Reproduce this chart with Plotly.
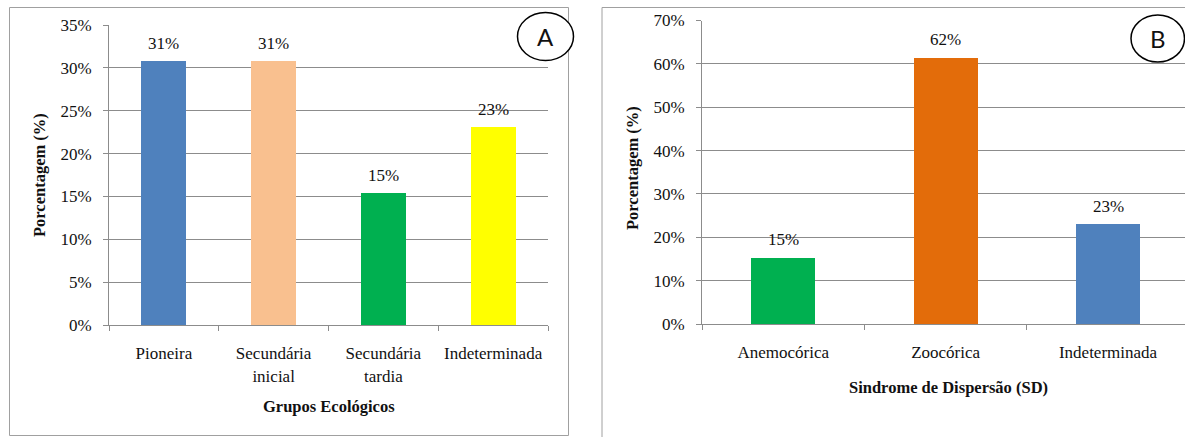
import plotly.graph_objects as go

# Panel A: ecological groups
grupos = ["Pioneira", "Secundária<br>inicial", "Secundária<br>tardia", "Indeterminada"]
pct_grupos = [0.3077, 0.3077, 0.1538, 0.2308]
cores_grupos = ["#4F81BD", "#F9C08F", "#00B050", "#FFFF00"]

# Panel B: dispersal syndrome
sindromes = ["Anemocórica", "Zoocórica", "Indeterminada"]
pct_sindromes = [0.1538, 0.6154, 0.2308]
cores_sindromes = ["#00B050", "#E36C0A", "#4F81BD"]

W, H = 1185, 437
SERIF = "Times New Roman"
GRID = "#8C8C8C"
BORDER = "#A0A0A0"


def px(x):
    return x / W


def py(y):
    return 1 - y / H


fig = go.Figure()
fig.add_trace(go.Bar(x=grupos, y=pct_grupos, marker=dict(color=cores_grupos, line=dict(width=0)),
                     width=0.41, xaxis="x", yaxis="y", showlegend=False, hoverinfo="x+y"))
fig.add_trace(go.Bar(x=sindromes, y=pct_sindromes, marker=dict(color=cores_sindromes, line=dict(width=0)),
                     width=0.395, xaxis="x2", yaxis="y2", showlegend=False, hoverinfo="x+y"))

tick_font = dict(family=SERIF, size=17, color="#111")
common_x = dict(type="category", showline=True, linecolor=GRID, linewidth=1, ticks="outside",
                tickson="boundaries", ticklen=5, tickcolor=GRID, showgrid=False, automargin=False,
                tickfont=tick_font, ticklabelstandoff=13, fixedrange=True)
common_y = dict(showline=True, linecolor=GRID, linewidth=1, ticks="outside", ticklen=5,
                tickcolor=GRID, showgrid=True, gridcolor=GRID, gridwidth=1, zeroline=False,
                automargin=False, tickformat=".0%", tickfont=tick_font, ticklabelstandoff=8,
                fixedrange=True)

fig.update_layout(
    width=W, height=H,
    margin=dict(l=0, r=0, t=0, b=0, pad=0, autoexpand=False),
    paper_bgcolor="white", plot_bgcolor="white",
    bargap=0,
    xaxis=dict(common_x, domain=[px(109), px(548)], range=[-0.5, 3.5], anchor="y"),
    yaxis=dict(common_y, domain=[py(325), py(25)], range=[0, 0.35], dtick=0.05, anchor="x"),
    xaxis2=dict(common_x, domain=[px(702), 1.0], range=[-0.5, 2.474], anchor="y2"),
    yaxis2=dict(common_y, domain=[py(324), py(20.5)], range=[0, 0.70], dtick=0.10, anchor="x2"),
)

annotations = []
# value labels above the bars
for cat, v in zip(grupos, pct_grupos):
    annotations.append(dict(x=cat, y=v, xref="x", yref="y", text=f"{v:.0%}", showarrow=False,
                            yanchor="bottom", yshift=6, font=dict(family=SERIF, size=17, color="#111")))
for cat, v in zip(sindromes, pct_sindromes):
    annotations.append(dict(x=cat, y=v, xref="x2", yref="y2", text=f"{v:.0%}", showarrow=False,
                            yanchor="bottom", yshift=6, font=dict(family=SERIF, size=17, color="#111")))

title_font = dict(family=SERIF, size=16.5, color="#111")
annotations += [
    dict(x=px(40), y=py(175), xref="paper", yref="paper", text="<b>Porcentagem (%)</b>",
         textangle=-90, showarrow=False, font=title_font, xanchor="center", yanchor="middle"),
    dict(x=px(632), y=py(168), xref="paper", yref="paper", text="<b>Porcentagem (%)</b>",
         textangle=-90, showarrow=False, font=title_font, xanchor="center", yanchor="middle"),
    dict(x=px(328.5), y=py(406), xref="paper", yref="paper", text="<b>Grupos Ecológicos</b>",
         showarrow=False, font=title_font, xanchor="center", yanchor="middle"),
    dict(x=px(948), y=py(387), xref="paper", yref="paper", text="<b>Sindrome de Dispersão (SD)</b>",
         showarrow=False, font=title_font, xanchor="center", yanchor="middle"),
    dict(x=px(545.5), y=py(36.5), xref="paper", yref="paper", text="A", showarrow=False,
         font=dict(family="Lato, Open Sans, sans-serif", size=24, color="#111"),
         xanchor="center", yanchor="middle"),
    dict(x=px(1158), y=py(38.5), xref="paper", yref="paper", text="B", showarrow=False,
         font=dict(family="Lato, Open Sans, sans-serif", size=24, color="#111"),
         xanchor="center", yanchor="middle"),
]
fig.update_layout(annotations=annotations)

shapes = [
    # panel frames
    dict(type="rect", xref="paper", yref="paper", x0=px(9.5), x1=px(568.5), y0=py(435.5), y1=py(7.5),
         line=dict(color=BORDER, width=1), fillcolor="rgba(0,0,0,0)", layer="above"),
    dict(type="line", xref="paper", yref="paper", x0=px(602), x1=px(602), y0=py(7.5), y1=0,
         line=dict(color=BORDER, width=1), layer="above"),
    dict(type="line", xref="paper", yref="paper", x0=px(602), x1=1, y0=py(7.5), y1=py(7.5),
         line=dict(color=BORDER, width=1), layer="above"),
    # panel badges
    dict(type="circle", xref="paper", yref="paper", x0=px(517.5), x1=px(573.5), y0=py(60.5), y1=py(12.5),
         line=dict(color="black", width=1.5), fillcolor="white", layer="above"),
    dict(type="circle", xref="paper", yref="paper", x0=px(1131), x1=px(1184.5), y0=py(62), y1=py(15),
         line=dict(color="black", width=1.5), fillcolor="white", layer="above"),
]
fig.update_layout(shapes=shapes)

fig.write_html("out.html")
